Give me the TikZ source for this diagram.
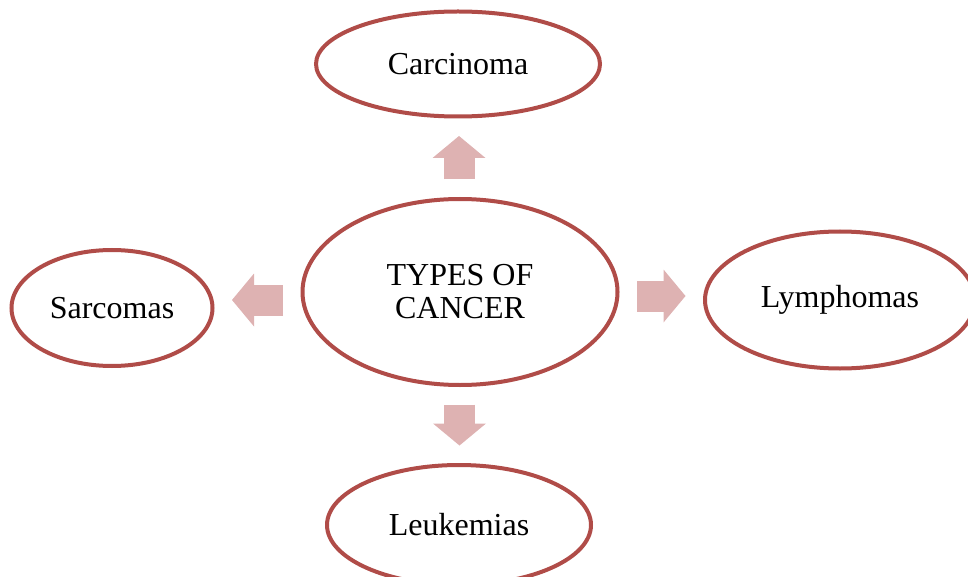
\documentclass[tikz,border=0pt]{standalone}
\usepackage{fontspec}
\setmainfont{Liberation Serif}
\usetikzlibrary{shapes.geometric,arrows.meta,calc}
\definecolor{rimred}{RGB}{176,76,72}
\definecolor{arrowpink}{RGB}{222,178,178}
\tikzset{cancer/.style={ellipse,draw=rimred,line width=2pt,fill=white,align=center,
		inner sep=0pt,font=\fontsize{16}{16.5}\selectfont},
	flow/.style={draw=arrowpink,line width=15.5pt,shorten <=8.75pt,shorten >=8.75pt,
		-{Triangle[length=11pt,width=26.5pt,line width=0pt]}}}

\begin{document}
\begin{tikzpicture}[x=0.5pt,y=-0.5pt]
	\useasboundingbox (0,0) rectangle (968,577);

	\node[cancer,minimum width=157.5pt,minimum height=93pt](types) at (460,292) {TYPES OF\\CANCER};
	\node[cancer,minimum width=142pt,minimum height=52.5pt](carc) at (458,64) {Carcinoma};
	\node[cancer,minimum width=100.5pt,minimum height=58pt](sarc) at (112,308) {Sarcomas};
	\node[cancer,minimum width=135pt,minimum height=68.5pt](lymph) at (840,300) {Lymphomas};
	\node[cancer,minimum width=132pt,minimum height=60pt](leuk) at (459,525) {Leukemias};

	\coordinate (n-mid) at ($(types.north)!.5!(carc.south)$);
	\coordinate (w-mid) at ($(types.west)!.5!(sarc.east)$);
	\coordinate (e-mid) at ($(types.east)!.5!(lymph.west)$);
	\coordinate (s-mid) at ($(types.south)!.5!(leuk.north)$);

	\draw[flow](n-mid|-types.north) -- (n-mid|-carc.south);
	\draw[flow](types.west|-w-mid) -- (sarc.east|-w-mid);
	\draw[flow](types.east|-e-mid) -- (lymph.west|-e-mid);
	\draw[flow](s-mid|-types.south) -- (s-mid|-leuk.north);

\end{tikzpicture}
\end{document}
